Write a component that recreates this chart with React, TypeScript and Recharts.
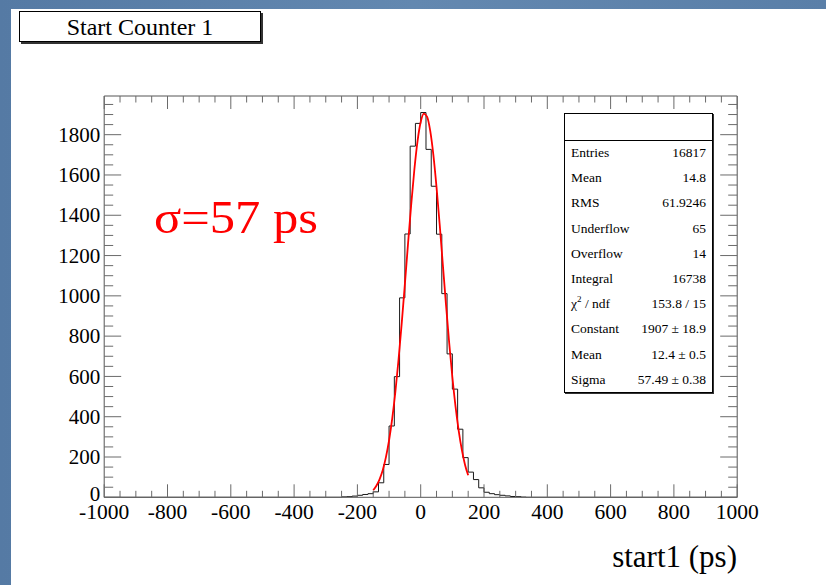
import React from 'react';
import { ComposedChart, Line, XAxis, YAxis, ReferenceArea } from 'recharts';

// ---- Data ----
const xDomain = [-1000, 1000];
const yDomain = [0, 1992];

// histogram bins (lower edges, ps) and counts
const binLowEdges = [
  -250, -233.3, -216.7, -200, -183.3, -166.7, -150, -133.3, -116.7, -100,
  -83.3, -66.7, -50, -33.3, -16.7, 0, 16.7, 33.3, 50, 66.7,
  83.3, 100, 116.7, 133.3, 150, 166.7, 183.3, 200, 216.7, 233.3,
  250, 266.7, 283.3, 300, 316.7,
];
const binCounts = [
  2, 3, 6, 10, 14, 18, 27, 72, 163, 354,
  599, 990, 1307, 1743, 1856, 1910, 1727, 1544, 1306, 1011,
  712, 537, 338, 197, 125, 88, 47, 25, 18, 13,
  10, 7, 4, 3, 1,
];
const lastBinUpperEdge = 333.3;

// gaussian fit curve as drawn (red)
const fitX = [
  -150, -140, -130, -120, -110, -100, -90, -80, -70, -60, -50, -40, -30, -20, -10,
  0, 10, 20, 30, 40, 50, 60, 70, 80, 90, 100, 110, 120, 130, 140, 150,
];
const fitY = [
  35, 57, 89, 134, 198, 282, 390, 524, 683, 863, 1058, 1259, 1453, 1627, 1768,
  1863, 1905, 1890, 1820, 1700, 1540, 1354, 1154, 955, 767, 597, 451, 331, 235, 162, 109,
];

const xTicks = [
  -1000, -950, -900, -850, -800, -750, -700, -650, -600, -550, -500, -450, -400, -350,
  -300, -250, -200, -150, -100, -50, 0, 50, 100, 150, 200, 250, 300, 350, 400, 450,
  500, 550, 600, 650, 700, 750, 800, 850, 900, 950, 1000,
];
const yTicks = [
  0, 50, 100, 150, 200, 250, 300, 350, 400, 450, 500, 550, 600, 650, 700, 750, 800,
  850, 900, 950, 1000, 1050, 1100, 1150, 1200, 1250, 1300, 1350, 1400, 1450, 1500,
  1550, 1600, 1650, 1700, 1750, 1800, 1850, 1900, 1950,
];
const majorStep = 200;

const titleText = 'Start Counter 1';
const xAxisTitle = 'start1 (ps)';
const annotation = 'σ=57 ps';

const statNames = ['Entries', 'Mean', 'RMS', 'Underflow', 'Overflow', 'Integral', 'χ2 / ndf', 'Constant', 'Mean', 'Sigma'];
const statValues = ['16817', '14.8', '61.9246', '65', '14', '16738', '153.8 / 15', '1907 ± 18.9', '12.4 ± 0.5', '57.49 ± 0.38'];

// ---- layout ----
const W = 826;
const H = 585;
const PLOT = { left: 104.2, right: 737.2, top: 96, bottom: 497.3 };
const Y_AXIS_W = 70;
const X_AXIS_H = 40;
const FONT = '"Liberation Serif", "DejaVu Serif", serif';
const TICK_COLOR = '#6a6a6a';

const histPoints = [
  { x: xDomain[0], y: 0 },
  ...binLowEdges.map((e, i) => ({ x: e, y: binCounts[i] })),
  { x: lastBinUpperEdge, y: 0 },
  { x: xDomain[1], y: 0 },
];
const fitPoints = fitX.map((x, i) => ({ x, y: fitY[i] }));

const XTick = (props: any) => {
  const { x, payload } = props;
  const v = payload.value as number;
  const major = v % majorStep === 0;
  const len = major ? 13 : 6.5;
  return (
    <g>
      <line x1={x} x2={x} y1={PLOT.bottom} y2={PLOT.bottom - len} stroke={TICK_COLOR} strokeWidth={1} />
      <line x1={x} x2={x} y1={PLOT.top} y2={PLOT.top + len} stroke={TICK_COLOR} strokeWidth={1} />
      {major && (
        <text x={x} y={PLOT.bottom + 22} textAnchor="middle" fontSize={21.5} fontFamily={FONT} fill="#000">
          {String(v)}
        </text>
      )}
    </g>
  );
};

const YTick = (props: any) => {
  const { y, payload } = props;
  const v = payload.value as number;
  const major = v % majorStep === 0;
  const len = major ? 17 : 9;
  return (
    <g>
      <line x1={PLOT.left} x2={PLOT.left + len} y1={y} y2={y} stroke={TICK_COLOR} strokeWidth={1} />
      <line x1={PLOT.right} x2={PLOT.right - len} y1={y} y2={y} stroke={TICK_COLOR} strokeWidth={1} />
      {major && (
        <text x={PLOT.left - 4} y={v === 0 ? y - 3 : y} dy="0.34em" textAnchor="end" fontSize={21} fontFamily={FONT} fill="#000">
          {String(v)}
        </text>
      )}
    </g>
  );
};

const renderStatName = (n: string) => {
  if (n.startsWith('χ2')) {
    return (
      <span>
        χ<sup style={{ fontSize: 9, verticalAlign: 'top', position: 'relative', top: -2 }}>2</sup>
        {n.slice(2)}
      </span>
    );
  }
  return n;
};

export default function App() {
  return (
    <div
      style={{
        position: 'fixed',
        left: 0,
        top: 0,
        width: W,
        height: H,
        background: 'linear-gradient(90deg, #557aa4 0%, #6388b0 50%, #5a7fa8 100%)',
        overflow: 'hidden',
        fontFamily: FONT,
      }}
    >
      <div style={{ position: 'absolute', left: 11, top: 9, width: W - 11, height: H - 9, background: '#fff' }} />

      <div style={{ position: 'absolute', left: 0, top: 0 }}>
        <ComposedChart
          width={W}
          height={H}
          margin={{
            top: PLOT.top,
            left: PLOT.left - Y_AXIS_W,
            right: W - PLOT.right,
            bottom: H - PLOT.bottom - X_AXIS_H,
          }}
        >
          <XAxis
            dataKey="x"
            type="number"
            domain={xDomain}
            ticks={xTicks}
            interval={0}
            allowDataOverflow
            axisLine={false}
            tickLine={false}
            tickSize={0}
            tickMargin={0}
            height={X_AXIS_H}
            tick={<XTick />}
          />
          <YAxis
            type="number"
            domain={yDomain}
            ticks={yTicks}
            interval={0}
            allowDataOverflow
            axisLine={false}
            tickLine={false}
            tickSize={0}
            tickMargin={0}
            width={Y_AXIS_W}
            tick={<YTick />}
          />
          <Line
            data={histPoints}
            dataKey="y"
            type="stepAfter"
            stroke="#1a1a1a"
            strokeWidth={1}
            dot={false}
            activeDot={false}
            isAnimationActive={false}
          />
          <Line
            data={fitPoints}
            dataKey="y"
            type="monotone"
            stroke="#ff0000"
            strokeWidth={1.8}
            dot={false}
            activeDot={false}
            isAnimationActive={false}
          />
          <ReferenceArea
            x1={xDomain[0]}
            x2={xDomain[1]}
            y1={yDomain[0]}
            y2={yDomain[1]}
            fill="none"
            fillOpacity={0}
            stroke="#555"
            strokeWidth={1}
            ifOverflow="visible"
          />
        </ComposedChart>
      </div>

      {/* title box */}
      <div
        style={{
          position: 'absolute',
          left: 19,
          top: 11,
          width: 240,
          height: 29,
          border: '1px solid #000',
          boxShadow: '2px 2px 0 #333',
          background: '#fff',
          fontSize: 24,
          lineHeight: '30px',
          textAlign: 'center',
          color: '#000',
        }}
      >
        {titleText}
      </div>

      {/* sigma annotation */}
      <div
        style={{
          position: 'absolute',
          left: 154,
          top: 218 - 23,
          fontSize: 46,
          lineHeight: '46px',
          color: '#ff0000',
          whiteSpace: 'nowrap',
          transform: 'scaleX(1.1)',
          transformOrigin: 'left center',
        }}
      >
        {annotation}
      </div>

      {/* x axis title */}
      <div
        style={{
          position: 'absolute',
          right: W - 737,
          top: 541,
          fontSize: 31,
          lineHeight: '31px',
          color: '#000',
          whiteSpace: 'nowrap',
        }}
      >
        {xAxisTitle}
      </div>

      {/* stats box */}
      <div
        style={{
          position: 'absolute',
          left: 564,
          top: 113,
          width: 147,
          height: 278,
          border: '1px solid #000',
          boxShadow: '1px 1px 0 #333',
          background: '#fff',
          color: '#000',
          fontSize: 13.5,
        }}
      >
        <div style={{ height: 25.5, borderBottom: '1px solid #000' }} />
        {statNames.map((n, i) => (
          <div
            key={i}
            style={{
              height: 25.2,
              display: 'flex',
              justifyContent: 'space-between',
              alignItems: 'center',
              padding: '0 6px 0 6px',
              whiteSpace: 'nowrap',
            }}
          >
            <span>{renderStatName(n)}</span>
            <span>{statValues[i]}</span>
          </div>
        ))}
      </div>
    </div>
  );
}
